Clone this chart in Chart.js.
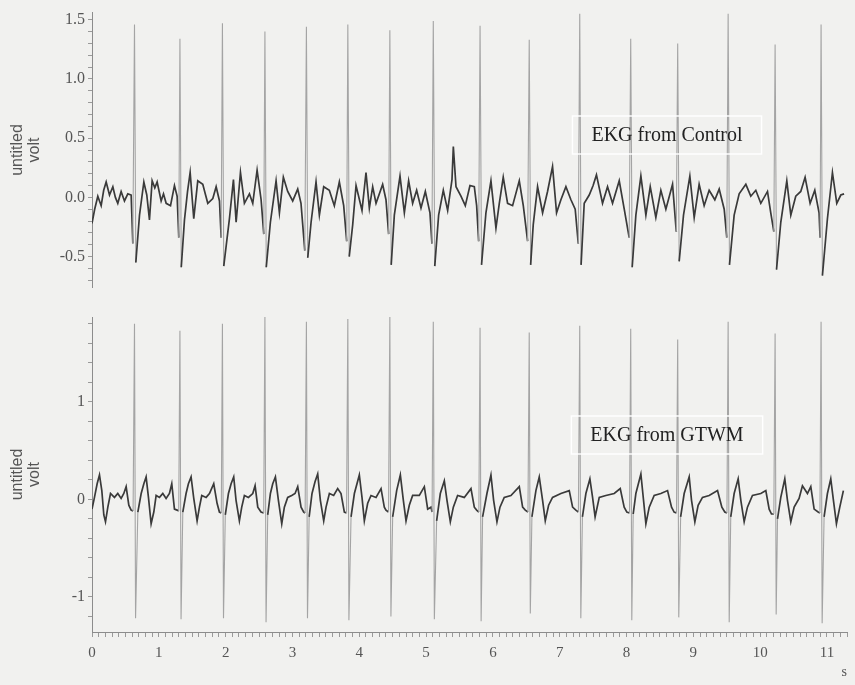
<!DOCTYPE html>
<html>
<head>
<meta charset="utf-8">
<script src="https://cdn.jsdelivr.net/npm/chart.js@4.4.1/dist/chart.umd.min.js"></script>
<style>
  html, body { margin: 0; padding: 0; background: #f1f1ef; }
  #wrap { position: relative; width: 855px; height: 685px; }
  #topChart { position: absolute; left: 0; top: 0; }
  #botChart { position: absolute; left: 0; top: 300px; }
</style>
</head>
<body>
<div id="wrap">
  <canvas id="topChart" width="855" height="300"></canvas>
  <canvas id="botChart" width="855" height="385"></canvas>
</div>
<script>
// EKG from Control (seconds, volts), one line per beat
const controlTime = [
  0.00,0.04,0.087,0.137,0.175,0.212,0.262,0.312,0.35,0.386,0.436,0.486,0.536,0.586,0.611,0.636,0.656,
  0.711,0.776,0.82,0.86,0.90,0.94,0.975,1.035,1.07,1.11,1.175,1.234,1.274,1.299,1.316,1.336,
  1.384,1.43,1.469,1.523,1.583,1.658,1.70,1.733,1.808,1.858,1.908,1.933,1.952,1.972,
  2.057,2.117,2.157,2.222,2.281,2.356,2.406,2.471,2.531,2.571,2.588,2.608,
  2.67,2.755,2.805,2.864,2.929,3.004,3.079,3.128,3.185,3.209,3.229,
  3.279,3.353,3.403,3.468,3.552,3.627,3.702,3.767,3.812,3.829,3.85,
  3.902,3.952,4.041,4.101,4.151,4.201,4.251,4.35,4.40,4.44,4.458,4.478,
  4.525,4.61,4.675,4.739,4.799,4.859,4.924,4.989,5.058,5.088,5.108,5.13,
  5.188,5.258,5.323,5.388,5.408,5.448,5.522,5.587,5.657,5.722,5.757,5.787,5.808,5.83,
  5.896,5.971,6.046,6.096,6.155,6.22,6.295,6.395,6.455,6.52,6.544,6.565,
  6.604,6.669,6.744,6.818,6.893,6.953,7.018,7.093,7.168,7.232,7.278,7.30,7.32,
  7.367,7.442,7.50,7.55,7.641,7.716,7.791,7.891,7.966,8.04,8.063,8.085,
  8.14,8.215,8.29,8.355,8.439,8.514,8.589,8.689,8.745,8.766,8.788,
  8.853,8.948,9.013,9.087,9.162,9.237,9.322,9.387,9.462,9.501,9.521,9.541,
  9.611,9.686,9.786,9.86,9.935,10.01,10.11,10.159,10.205,10.224,10.245,
  10.309,10.399,10.459,10.533,10.608,10.673,10.748,10.818,10.882,10.897,10.912,10.932,
  11.007,11.082,11.147,11.207,11.256
];
const controlVolt = [
  -0.22,-0.10,0.01,-0.07,0.06,0.13,0.02,0.09,0.00,-0.05,0.05,-0.03,0.03,0.02,-0.39,1.46,-0.55,
  -0.15,0.13,0.02,-0.19,0.14,0.08,0.13,-0.03,0.03,-0.05,-0.07,0.10,0.01,-0.34,1.34,-0.59,
  -0.19,0.05,0.21,-0.18,0.14,0.11,0.02,-0.05,-0.01,0.09,-0.03,-0.34,1.47,-0.58,
  -0.18,0.15,-0.21,0.21,-0.05,0.03,-0.05,0.23,-0.02,-0.31,1.40,-0.59,
  -0.21,0.14,-0.13,0.17,0.05,-0.03,0.07,-0.05,-0.45,1.44,-0.51,
  -0.21,0.13,-0.15,0.09,0.06,-0.07,0.13,-0.07,-0.37,1.46,-0.50,
  -0.23,0.10,-0.11,0.21,-0.09,0.09,-0.05,0.11,-0.02,-0.31,1.41,-0.57,
  -0.15,0.18,-0.13,0.14,-0.05,0.06,-0.09,0.05,-0.13,-0.39,1.49,-0.58,
  -0.15,0.06,-0.11,0.15,0.43,0.09,0.01,-0.07,0.10,0.09,-0.07,-0.37,1.45,-0.57,
  -0.13,0.14,-0.26,-0.05,0.17,-0.05,-0.07,0.14,-0.07,-0.37,1.33,-0.57,
  -0.23,0.09,-0.13,0.05,0.26,-0.13,-0.02,0.09,-0.02,-0.10,-0.39,1.55,-0.57,
  -0.05,0.02,0.10,0.19,-0.05,0.09,-0.05,0.14,-0.10,-0.34,1.34,-0.59,
  -0.15,0.18,-0.15,0.09,-0.17,0.06,-0.10,0.11,-0.29,1.30,-0.54,
  -0.15,0.18,-0.17,0.11,-0.07,0.06,-0.02,0.07,-0.10,-0.34,1.55,-0.57,
  -0.15,0.03,0.11,0.01,0.06,-0.05,0.05,-0.13,-0.29,1.29,-0.61,
  -0.21,0.14,-0.15,0.01,0.05,0.17,-0.05,0.06,-0.13,-0.34,1.46,-0.66,
  -0.18,0.21,-0.05,0.02,0.03
];

// EKG from GTWM (seconds, volts)
const gtwmTime = [
  0.00,0.037,0.077,0.112,0.147,0.177,0.202,0.237,0.277,0.336,0.386,0.436,0.476,0.511,0.551,0.586,0.615,0.636,0.652,
  0.686,0.736,0.776,0.81,0.845,0.885,0.925,0.96,1.01,1.06,1.109,1.159,1.194,1.234,1.274,1.298,1.316,1.333,
  1.359,1.408,1.443,1.483,1.523,1.573,1.608,1.643,1.708,1.758,1.822,1.872,1.907,1.935,1.952,1.968,
  1.995,2.042,2.082,2.121,2.156,2.206,2.241,2.281,2.341,2.406,2.441,2.481,2.53,2.57,2.588,2.605,
  2.63,2.67,2.705,2.745,2.79,2.84,2.879,2.929,2.989,3.039,3.079,3.129,3.169,3.19,3.209,3.225,
  3.25,3.293,3.338,3.378,3.418,3.468,3.503,3.553,3.617,3.677,3.727,3.777,3.81,3.829,3.845,
  3.877,3.927,4.001,4.041,4.076,4.126,4.176,4.251,4.326,4.375,4.40,4.438,4.458,4.474,
  4.50,4.56,4.615,4.66,4.70,4.749,4.799,4.899,4.974,5.024,5.074,5.09,5.108,5.124,
  5.158,5.213,5.273,5.313,5.363,5.408,5.472,5.572,5.672,5.722,5.757,5.79,5.808,5.824,
  5.846,5.911,5.971,6.011,6.061,6.106,6.17,6.27,6.395,6.445,6.485,6.525,6.544,6.56,
  6.584,6.644,6.694,6.744,6.784,6.834,6.893,7.018,7.143,7.193,7.242,7.28,7.30,7.316,
  7.34,7.392,7.452,7.492,7.53,7.592,7.691,7.816,7.906,7.965,8.005,8.045,8.063,8.079,
  8.10,8.14,8.215,8.255,8.29,8.34,8.414,8.514,8.614,8.674,8.713,8.748,8.766,8.782,
  8.81,8.863,8.938,8.973,9.023,9.072,9.137,9.237,9.362,9.427,9.471,9.503,9.521,9.537,
  9.56,9.611,9.671,9.711,9.761,9.81,9.885,10.01,10.085,10.135,10.17,10.205,10.224,10.24,
  10.26,10.309,10.369,10.409,10.459,10.509,10.583,10.633,10.708,10.758,10.808,10.868,10.895,10.912,10.928,
  10.957,11.007,11.057,11.097,11.142,11.192,11.246
];
const gtwmVolt = [
  -0.10,0.02,0.16,0.25,0.09,-0.16,-0.23,-0.08,0.06,0.02,0.06,0.01,0.06,0.13,-0.06,-0.11,-0.12,1.80,-1.22,
  -0.13,0.06,0.16,0.23,0.02,-0.25,-0.13,0.04,0.02,0.06,0.01,0.06,0.16,-0.10,-0.11,-0.12,1.73,-1.23,
  -0.13,0.06,0.16,0.23,0.01,-0.22,-0.08,0.04,0.02,0.06,0.16,-0.04,-0.13,-0.14,1.80,-1.22,
  -0.16,0.06,0.16,0.23,-0.01,-0.22,-0.08,0.04,0.02,0.06,0.14,-0.08,-0.13,-0.14,1.87,-1.26,
  -0.16,0.06,0.16,0.23,-0.01,-0.25,-0.08,0.02,0.04,0.06,0.13,-0.08,-0.13,-0.14,1.82,-1.22,
  -0.18,0.06,0.18,0.26,-0.01,-0.22,-0.08,0.06,0.04,0.11,0.06,-0.13,-0.14,1.85,-1.24,
  -0.18,0.06,0.25,0.02,-0.22,-0.04,0.04,0.02,0.11,-0.08,-0.11,-0.13,1.88,-1.20,
  -0.18,0.09,0.25,-0.01,-0.22,-0.06,0.04,0.04,0.13,-0.10,-0.08,-0.13,1.82,-1.23,
  -0.22,0.06,0.19,-0.01,-0.23,-0.08,0.04,0.02,0.11,-0.08,-0.11,-0.13,1.76,-1.25,
  -0.18,0.06,0.25,-0.01,-0.23,-0.08,0.02,0.04,0.13,-0.08,-0.11,-0.13,1.71,-1.17,
  -0.18,0.09,0.23,-0.01,-0.22,-0.06,0.02,0.06,0.09,-0.08,-0.11,-0.13,1.78,-1.22,
  -0.18,0.06,0.21,0.02,-0.18,0.02,0.04,0.06,0.11,-0.08,-0.13,-0.14,1.75,-1.24,
  -0.15,0.06,0.26,-0.01,-0.25,-0.08,0.04,0.06,0.09,-0.08,-0.13,-0.14,1.64,-1.21,
  -0.18,0.06,0.23,-0.01,-0.23,-0.06,0.02,0.04,0.09,-0.08,-0.13,-0.14,1.82,-1.26,
  -0.18,0.06,0.21,-0.01,-0.23,-0.08,0.04,0.06,0.09,-0.10,-0.15,-0.15,1.70,-1.18,
  -0.20,0.02,0.21,-0.01,-0.23,-0.08,0.01,0.14,0.06,0.13,-0.10,-0.13,-0.14,1.82,-1.27,
  -0.18,0.06,0.21,-0.01,-0.25,-0.08,0.09
];

const xTickLabels = [0,1,2,3,4,5,6,7,8,9,10,11];
const controlTickLabels = [-0.5, 0.0, 0.5, 1.0, 1.5];
const gtwmTickLabels = [-1, 0, 1];

// label box drawn in the plot area
const labelBox = {
  id: 'labelBox',
  afterDraw(chart, args, opts) {
    const ctx = chart.ctx;
    ctx.save();
    ctx.font = '20px "Liberation Serif", serif';
    const w = ctx.measureText(opts.text).width;
    ctx.strokeStyle = 'rgba(255,255,255,0.95)';
    ctx.lineWidth = 1.5;
    ctx.strokeRect(opts.x - w / 2 - 19, opts.y - 19, w + 38, 38);
    ctx.fillStyle = '#222';
    ctx.textAlign = 'center';
    ctx.textBaseline = 'middle';
    ctx.fillText(opts.text, opts.x, opts.y + 1);
    ctx.restore();
  }
};

function isOn(v, list) {
  return list.some(t => Math.abs(v - t) < 1e-6);
}

function makePanel(id, times, volts, yMin, yMax, yStep, yLabels, fmt, text, showX, padTop) {
  const points = times.map((t, i) => ({x: t, y: volts[i]}));
  const spike = c => Math.abs(c.p1.parsed.y - c.p0.parsed.y) > 0.9;
  return new Chart(document.getElementById(id), {
    type: 'line',
    data: {
      datasets: [{
        data: points,
        borderWidth: 1.6,
        pointRadius: 0,
        tension: 0,
        segment: {
          borderColor: c => spike(c) ? '#a4a4a4' : '#3a3a3a',
          borderWidth: c => spike(c) ? 1.1 : 1.7
        }
      }]
    },
    options: {
      responsive: false,
      animation: false,
      layout: { padding: { top: padTop, right: 8, bottom: showX ? 0 : 4, left: 0 } },
      plugins: {
        legend: { display: false },
        tooltip: { enabled: false },
        labelBox: { text: text, x: 667, y: 135 }
      },
      scales: {
        x: {
          type: 'linear',
          min: 0,
          max: 11.3,
          display: showX,
          afterFit: s => { if (showX) s.height = 53; },
          border: { display: true, color: '#8c8c8c' },
          grid: { drawOnChartArea: false, tickLength: 5, color: '#9a9a9a' },
          ticks: {
            stepSize: 0.1,
            includeBounds: false,
            autoSkip: false,
            maxRotation: 0,
            padding: 7,
            color: '#555',
            font: { family: '"Liberation Serif", serif', size: 15 },
            callback: v => isOn(v, xTickLabels) ? String(Math.round(v)) : ''
          },
          title: {
            display: true,
            text: 's',
            align: 'end',
            color: '#555',
            padding: { top: 0, bottom: 4 },
            font: { family: '"Liberation Serif", serif', size: 14 }
          }
        },
        y: {
          min: yMin,
          max: yMax,
          afterFit: s => { s.width = 92; },
          border: { display: true, color: '#8c8c8c' },
          grid: { drawOnChartArea: false, tickLength: 4, color: '#9a9a9a' },
          ticks: {
            stepSize: yStep,
            includeBounds: false,
            autoSkip: false,
            padding: 3,
            color: '#555',
            font: { family: '"Liberation Serif", serif', size: 16 },
            callback: v => isOn(v, yLabels) ? fmt(v) : ''
          },
          title: {
            display: true,
            text: ['untitled', 'volt'],
            color: '#555',
            padding: { top: 9, bottom: 0 },
            font: { family: '"Liberation Sans", Arial, sans-serif', size: 16, lineHeight: 1.05 }
          }
        }
      }
    },
    plugins: [labelBox]
  });
}

makePanel('topChart', controlTime, controlVolt, -0.76, 1.56, 0.1, controlTickLabels,
  v => v.toFixed(1), 'EKG from Control', false, 6);
makePanel('botChart', gtwmTime, gtwmVolt, -1.36, 1.87, 0.2, gtwmTickLabels,
  v => String(Math.round(v)), 'EKG from GTWM', true, 17);
</script>
</body>
</html>
